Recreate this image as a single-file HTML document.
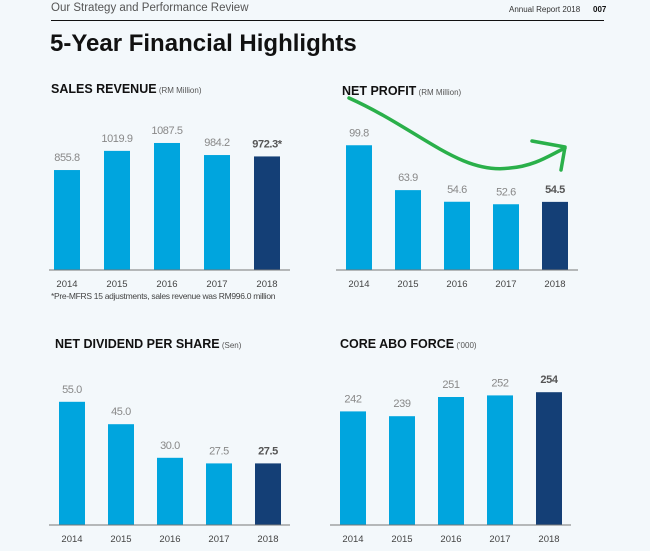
<!DOCTYPE html>
<html><head><meta charset="utf-8"><style>
body{margin:0;width:650px;height:551px;background:#f3f8fb;font-family:"Liberation Sans",sans-serif;overflow:hidden;position:relative}
.t{position:absolute;white-space:nowrap}
</style></head><body>
<div class="t" style="left:51px;top:2px;font-size:11.5px;color:#555">Our Strategy and Performance Review</div>
<div class="t" style="left:509px;top:5px;font-size:8px;color:#333">Annual Report 2018</div>
<div class="t" style="left:593px;top:5px;font-size:8px;font-weight:bold;color:#111">007</div>
<div style="position:absolute;left:51px;top:20px;width:553px;height:1px;background:#111"></div>
<div class="t" style="left:50px;top:30px;font-size:24px;font-weight:bold;color:#111">5-Year Financial Highlights</div>
<div class="t" style="left:51px;top:291px;font-size:8.5px;color:#444;letter-spacing:-0.3px">*Pre-MFRS 15 adjustments, sales revenue was RM996.0 million</div>
<svg id="c" width="650" height="551" style="position:absolute;left:0;top:0"></svg>
<script>
const years=["2014","2015","2016","2017","2018"];
const salesValues=[855.8,1019.9,1087.5,984.2,972.3];
const salesLabels=["855.8","1019.9","1087.5","984.2","972.3*"];
const profitValues=[99.8,63.9,54.6,52.6,54.5];
const profitLabels=["99.8","63.9","54.6","52.6","54.5"];
const dividendValues=[55.0,45.0,30.0,27.5,27.5];
const dividendLabels=["55.0","45.0","30.0","27.5","27.5"];
const aboValues=[242,239,251,252,254];
const aboLabels=["242","239","251","252","254"];
const NS="http://www.w3.org/2000/svg";
const svg=document.getElementById('c');
function mk(tag,attrs){const e=document.createElementNS(NS,tag);for(const k in attrs)e.setAttribute(k,attrs[k]);svg.appendChild(e);return e;}
function chart(cfg){
  const {key,title,unit,tx,ty,x0,step,base,axL,axR,vmin,scale,values,labels}=cfg;
  const tt=mk('text',{x:tx,y:ty,'font-size':12.5,'font-weight':'bold',fill:'#111'});
  
  
  tt.textContent=title;
  const ts=document.createElementNS(NS,'tspan');ts.setAttribute('font-size','8');ts.setAttribute('font-weight','normal');ts.setAttribute('fill','#555');ts.textContent=' '+unit;tt.appendChild(ts);
  const yv=v=>base-(v-vmin)*scale;
  values.forEach((v,i)=>{
    const x=x0+i*step, last=i===values.length-1;
    const r=mk('rect',{x:x,y:yv(v),width:26,height:base-yv(v),fill:last?'#143f76':'#00a5de'});
    
    
    const l=mk('text',{x:x+13,y:yv(v)-9,'text-anchor':'middle','font-size':11,fill:last?'#555':'#888','font-weight':last?'bold':'normal','letter-spacing':'-0.4'});
    
    
    l.textContent=labels[i];
    const y=mk('text',{x:x+13,y:base+17,'text-anchor':'middle','font-size':9.5,fill:'#444'});
    
    
    y.textContent=years[i];
  });
  const a=mk('line',{x1:axL,x2:axR,y1:base,y2:base,stroke:'#777','stroke-width':1});
  
  
}
chart({key:'sales',title:'SALES REVENUE',unit:'(RM Million)',tx:51,ty:93,x0:54,step:50,base:270,axL:49,axR:290,vmin:0,scale:0.1168,values:salesValues,labels:salesLabels});
chart({key:'profit',title:'NET PROFIT',unit:'(RM Million)',tx:342,ty:95,x0:346,step:49,base:270,axL:336,axR:578,vmin:0,scale:1.25,values:profitValues,labels:profitLabels});
chart({key:'dividend',title:'NET DIVIDEND PER SHARE',unit:'(Sen)',tx:55,ty:348,x0:59,step:49,base:525,axL:49,axR:290,vmin:0,scale:2.24,values:dividendValues,labels:dividendLabels});
chart({key:'abo',title:'CORE ABO FORCE',unit:"('000)",tx:340,ty:348,x0:340,step:49,base:525,axL:330,axR:571,vmin:171,scale:1.6,values:aboValues,labels:aboLabels});
const g=mk('path',{d:'M349,98 C420,130 460,175 510,168 C535,166 550,155 565,148 M532,141 L565,147 L561,170',fill:'none',stroke:'#2ab04a','stroke-width':3.5,'stroke-linecap':'round','stroke-linejoin':'round'});


</script>
</body></html>
